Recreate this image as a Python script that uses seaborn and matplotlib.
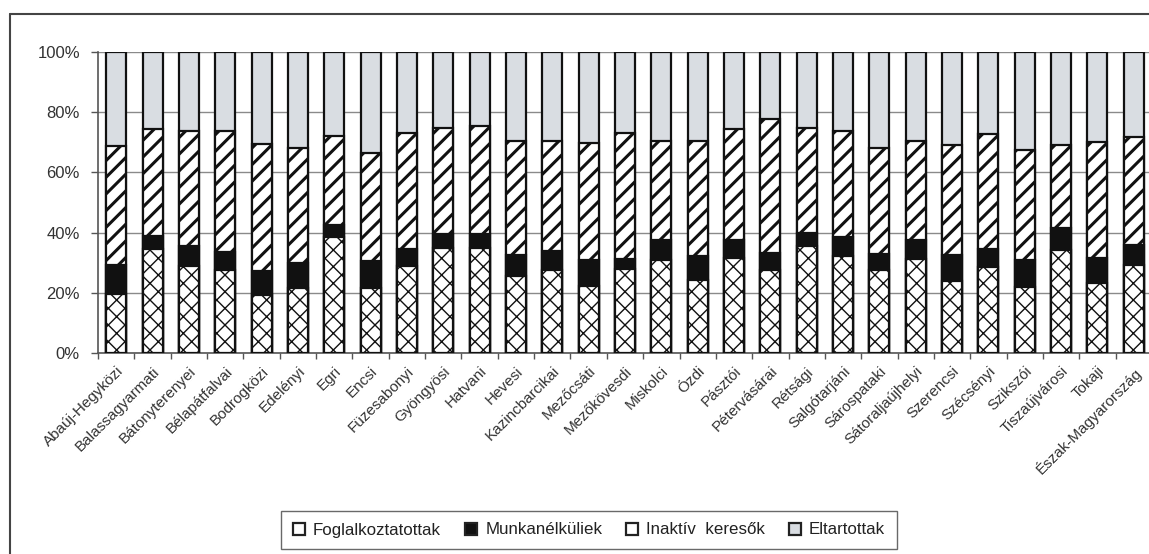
import numpy as np
import pandas as pd
import seaborn as sns
import matplotlib.pyplot as plt
from matplotlib.patches import Patch
from matplotlib.lines import Line2D

# kistérségek, %-os megoszlás
kisterseg = ["Abaúj-Hegyközi", "Balassagyarmati", "Bátonyterenyei", "Bélapátfalvai",
             "Bodrogközi", "Edelényi", "Egri", "Encsi", "Füzesabonyi", "Gyöngyösi",
             "Hatvani", "Hevesi", "Kazincbarcikai", "Mezőcsáti", "Mezőkövesdi",
             "Miskolci", "Ózdi", "Pásztói", "Pétervásárai", "Rétsági", "Salgótarjáni",
             "Sárospataki", "Sátoraljaújhelyi", "Szerencsi", "Szécsényi", "Szikszói",
             "Tiszaújvárosi", "Tokaji", "Észak-Magyarország"]

foglalkoztatottak = [19.6, 34.7, 28.8, 27.7, 19.4, 21.6, 38.6, 21.6, 28.8, 34.9,
                     34.9, 25.5, 27.5, 22.2, 28.0, 31.0, 24.2, 31.6, 27.5, 35.5,
                     32.2, 27.5, 31.3, 23.8, 28.6, 21.8, 34.1, 23.1, 29.2]
munkanelkuliek = [9.8, 4.3, 6.7, 5.8, 8.0, 8.3, 3.9, 9.1, 5.9, 4.8,
                  4.8, 7.2, 6.3, 8.8, 3.3, 6.4, 8.0, 5.8, 5.8, 4.4,
                  6.4, 5.5, 6.1, 8.6, 5.8, 9.2, 7.3, 8.5, 6.8]
inaktiv = [39.3, 35.3, 38.4, 40.4, 41.9, 38.1, 29.6, 35.8, 38.5, 34.9,
           35.7, 37.7, 36.6, 38.8, 41.9, 33.0, 38.2, 36.9, 44.5, 34.7,
           35.1, 35.2, 33.0, 36.6, 38.5, 36.6, 27.6, 38.5, 35.7]
eltartottak = [31.3, 25.7, 26.1, 26.1, 30.7, 32.0, 27.9, 33.5, 26.8, 25.4,
               24.6, 29.6, 29.6, 30.2, 26.8, 29.6, 29.6, 25.7, 22.2, 25.4,
               26.3, 31.8, 29.6, 31.0, 27.1, 32.4, 31.0, 29.9, 28.3]

series = ["Foglalkoztatottak", "Munkanélküliek", "Inaktív  keresők", "Eltartottak"]
yticks = [0, 20, 40, 60, 80, 100]

df = pd.DataFrame({"kisterseg": kisterseg,
                   series[0]: foglalkoztatottak, series[1]: munkanelkuliek,
                   series[2]: inaktiv, series[3]: eltartottak})
cum = df[series].cumsum(axis=1)
cum = cum.div(cum[series[-1]], axis=0) * 100

sns.set_style("white")
plt.rcParams['font.family'] = ['Liberation Sans', 'DejaVu Sans']

fig = plt.figure(figsize=(11.49, 5.54), dpi=100)
ax = fig.add_axes([98 / 1149, 201 / 554, 1054 / 1149, 301 / 554])

styles = {
    "Eltartottak": dict(color="#d9dde2", hatch=None, hlw=1.0),
    "Inaktív  keresők": dict(color="white", hatch="//", hlw=2.2),
    "Munkanélküliek": dict(color="#111111", hatch=None, hlw=1.0),
    "Foglalkoztatottak": dict(color="white", hatch="xx", hlw=1.0),
}

# layers drawn from the top of the stack down, each covering the one before
for s in reversed(series):
    st = styles[s]
    plt.rcParams['hatch.linewidth'] = st["hlw"]
    sns.barplot(x=df["kisterseg"], y=cum[s], color=st["color"], saturation=1,
                width=0.55, edgecolor="#111111", linewidth=1.6,
                hatch=st["hatch"], ax=ax, zorder=3)

ax.set_xlim(-0.5, len(kisterseg) - 0.5)
ax.set_ylim(0, 100)
ax.set_yticks(yticks)
ax.set_yticklabels([f"{v}%" for v in yticks], fontsize=12, color="#333333")
ax.yaxis.grid(True, color="#8a8a8a", lw=1.0, zorder=0)
ax.set_axisbelow(True)
ax.set_xlabel("")
ax.set_ylabel("")

ax.set_xticks(range(len(kisterseg)))
ax.set_xticklabels(kisterseg, rotation=45, ha="right", va="top",
                   rotation_mode="anchor", fontsize=11, color="#333333")
ax.set_xticks(np.arange(-0.5, len(kisterseg), 1), minor=True)
ax.tick_params(axis="x", which="major", length=0, pad=8)
ax.tick_params(axis="x", which="minor", length=4, width=1, color="#555555",
               direction="out", bottom=True)
ax.tick_params(axis="y", length=5, width=1, color="#555555", direction="out",
               left=True, pad=8)

sns.despine(ax=ax, top=True, right=True)
for side in ("left", "bottom"):
    ax.spines[side].set_color("#555555")
    ax.spines[side].set_linewidth(1.2)

handles = [Patch(facecolor=styles[s]["color"] if s != "Munkanélküliek" else "#111111",
                 edgecolor="#222222", linewidth=1.6) for s in series]
leg = fig.legend(handles, series, loc="center", bbox_to_anchor=(589 / 1149, 24 / 554),
                 ncol=4, fontsize=12.2, frameon=True, fancybox=False,
                 handlelength=0.7, handleheight=0.7, handletextpad=0.5,
                 columnspacing=1.4, borderpad=0.7, edgecolor="#444444")
leg.get_frame().set_linewidth(1.0)
for t in leg.get_texts():
    t.set_color("#222222")

# outer chart frame
fig.add_artist(Line2D([10 / 1149, 10 / 1149], [0, 1 - 14 / 554],
                      transform=fig.transFigure, color="#444444", lw=1.5))
fig.add_artist(Line2D([10 / 1149, 1], [1 - 14 / 554, 1 - 14 / 554],
                      transform=fig.transFigure, color="#444444", lw=1.5))

fig.savefig("out.png", dpi=100)
